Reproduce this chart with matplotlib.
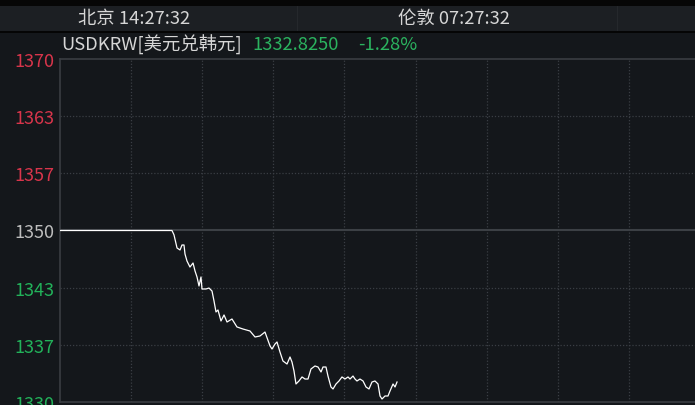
import matplotlib
matplotlib.use('Agg')
import matplotlib.pyplot as plt
import matplotlib.patches as mpatches
import numpy as np

plt.rcParams['font.family'] = ['Noto Sans CJK SC', 'DejaVu Sans']

# 数据：时间(网格单位)与汇率
t = [0.0, 1.575, 1.603, 1.646, 1.688, 1.716, 1.744, 1.758, 1.786, 1.828,
     1.871, 1.899, 1.927, 1.955, 1.983, 1.997, 2.053, 2.096, 2.138, 2.166,
     2.194, 2.222, 2.264, 2.307, 2.349, 2.419, 2.489, 2.574, 2.672, 2.743,
     2.813, 2.883, 2.954, 2.982, 3.024, 3.052, 3.094, 3.136, 3.193, 3.235,
     3.263, 3.291, 3.319, 3.361, 3.404, 3.446, 3.488, 3.530, 3.586, 3.629,
     3.671, 3.699, 3.741, 3.769, 3.811, 3.840, 3.882, 3.924, 3.966, 4.008,
     4.051, 4.079, 4.121, 4.149, 4.177, 4.219, 4.262, 4.304, 4.346, 4.388,
     4.430, 4.473, 4.501, 4.529, 4.571, 4.613, 4.641, 4.684, 4.712, 4.740]
rate = [1350.0, 1350.0, 1349.5, 1347.96, 1347.73, 1348.31, 1348.31, 1347.26, 1346.44, 1345.74,
        1346.21, 1345.28, 1344.58, 1343.53, 1344.58, 1343.18, 1343.18, 1343.29, 1342.94, 1341.78,
        1340.50, 1340.73, 1339.45, 1340.15, 1339.33, 1339.68, 1338.75, 1338.51, 1338.28, 1337.58,
        1337.70, 1338.16, 1336.53, 1336.18, 1336.76, 1337.00, 1335.83, 1334.78, 1334.43, 1335.25,
        1334.66, 1333.62, 1332.10, 1332.45, 1332.92, 1332.68, 1332.68, 1333.85, 1334.20, 1334.08,
        1333.50, 1334.08, 1334.08, 1333.03, 1331.75, 1331.52, 1332.10, 1332.45, 1332.92, 1332.68,
        1332.92, 1332.68, 1333.03, 1332.68, 1332.45, 1332.68, 1332.45, 1331.75, 1331.52, 1332.33,
        1332.45, 1332.10, 1330.70, 1330.35, 1330.70, 1330.70, 1331.28, 1332.10, 1331.75, 1332.33]

prev_close = 1350
y_ticks = [1370, 1363.33, 1356.67, 1350, 1343.33, 1336.67, 1330]
x_grid = [1, 2, 3, 4, 5, 6, 7, 8]

bg = '#14171b'
W, H = 695, 406
fig = plt.figure(figsize=(W / 100, H / 100), dpi=100, facecolor=bg)

def fx(px):
    return px / W

def fy(py):
    return 1 - py / H

# 顶部条
fig.patches.append(mpatches.Rectangle((0, fy(7)), 1, 7 / H, transform=fig.transFigure,
                                      facecolor='#060606', edgecolor='none', zorder=0))
fig.patches.append(mpatches.Rectangle((0, fy(32)), 1, 25 / H, transform=fig.transFigure,
                                      facecolor='#1c1f23', edgecolor='none', zorder=0))
fig.patches.append(mpatches.Rectangle((0, fy(33.5)), 1, 1.5 / H, transform=fig.transFigure,
                                      facecolor='#050505', edgecolor='none', zorder=0))
for sx in [297, 617]:
    fig.patches.append(mpatches.Rectangle((fx(sx), fy(32)), 1.2 / W, 25 / H, transform=fig.transFigure,
                                          facecolor='#25282c', edgecolor='none', zorder=0))

hdr = dict(fontsize=13.2, va='center', ha='left')
fig.text(fx(78), fy(19), '北京 14:27:32', color='#d6d6d6', **hdr)
fig.text(fx(398), fy(19), '伦敦 07:27:32', color='#d6d6d6', **hdr)
fig.text(fx(61), fy(45), 'USDKRW[美元兑韩元]', color='#d6d6d6', **hdr)
fig.text(fx(252), fy(45), '1332.8250', color='#2bb35f', **hdr)
fig.text(fx(358), fy(45), '-1.28%', color='#2bb35f', **hdr)

ax = fig.add_axes([fx(60), fy(403), 1 - fx(60), (403 - 60) / H], facecolor=bg)
ax.set_xlim(0, (W - 60) / 71.1)
ax.set_ylim(1330, 1370)

for xg in x_grid:
    ax.axvline(xg, color='#3a3e44', lw=0.9, ls=(0, (1, 1.5)), zorder=1)
for yv in y_ticks[1:-1]:
    if yv == prev_close:
        ax.axhline(yv, color='#3c4045', lw=1.5, zorder=1)
    else:
        ax.axhline(yv, color='#3a3e44', lw=0.9, ls=(0, (1, 1.5)), zorder=1)

ax.plot(t, rate, color='white', lw=0.9, zorder=3)

ax.set_yticks(y_ticks)
ax.set_yticklabels([f'{round(v)}' for v in y_ticks])
for lbl, v in zip(ax.get_yticklabels(), y_ticks):
    if v > prev_close + 0.1:
        lbl.set_color('#d8354b')
    elif v < prev_close - 0.1:
        lbl.set_color('#22b25a')
    else:
        lbl.set_color('#bdbdbd')
    lbl.set_fontsize(13)
ax.tick_params(axis='y', length=0, pad=4)
ax.set_xticks([])

for s in ['left', 'top', 'bottom']:
    ax.spines[s].set_color('#3a3d42')
    ax.spines[s].set_linewidth(1.2)
ax.spines['right'].set_visible(False)

fig.savefig('out.png', dpi=100, facecolor=bg)
